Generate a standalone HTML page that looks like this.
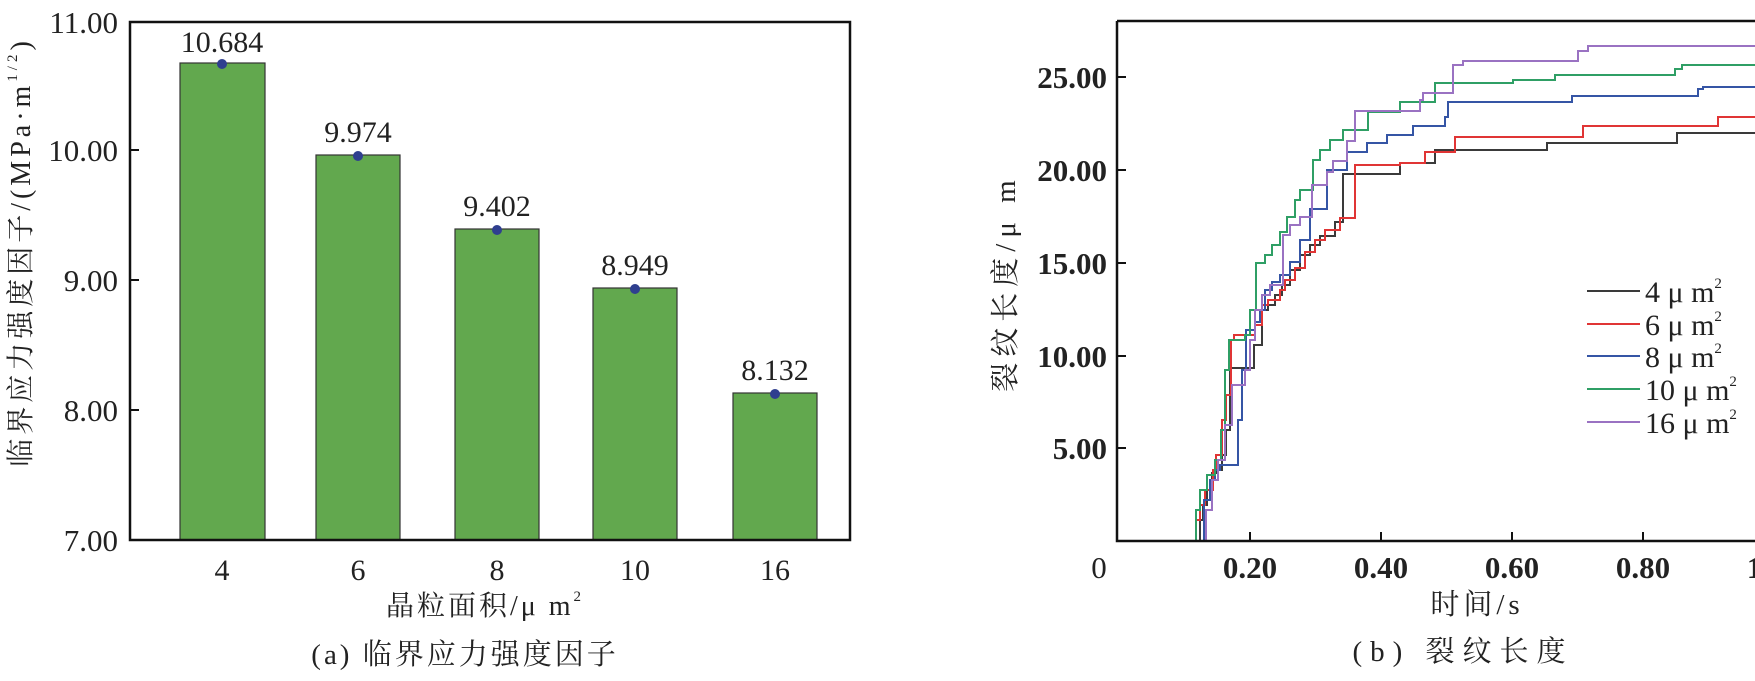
<!DOCTYPE html>
<html><head><meta charset="utf-8"><style>
body{margin:0;background:#fff;}
svg{display:block;}
.s{font-family:"Liberation Serif","Noto Serif CJK SC",serif;fill:#222;}
.c{font-family:"Liberation Serif","Noto Serif CJK SC",serif;fill:#222;}
</style></head><body>
<svg width="1755" height="681" viewBox="0 0 1755 681" xmlns="http://www.w3.org/2000/svg">
<!-- Chart a -->
<g stroke="#333" stroke-width="1.2" fill="#62a84e">
<rect x="180" y="63" width="85" height="477"/>
<rect x="316" y="155" width="84" height="385"/>
<rect x="455" y="229" width="84" height="311"/>
<rect x="593" y="288" width="84" height="252"/>
<rect x="733" y="393" width="84" height="147"/>
</g>
<g fill="#2f3f8f">
<circle cx="222" cy="64" r="5"/><circle cx="358" cy="156" r="5"/><circle cx="497" cy="230" r="5"/><circle cx="635" cy="289" r="5"/><circle cx="775" cy="394" r="5"/>
</g>
<rect x="130" y="22" width="720" height="518" fill="none" stroke="#111" stroke-width="2.5"/>
<g stroke="#111" stroke-width="2"><line x1="130" y1="150" x2="139" y2="150"/><line x1="130" y1="280" x2="139" y2="280"/><line x1="130" y1="410" x2="139" y2="410"/></g>
<g class="s" font-size="31" text-anchor="end">
<text x="118" y="33">11.00</text><text x="118" y="161">10.00</text><text x="118" y="291">9.00</text><text x="118" y="421">8.00</text><text x="118" y="551">7.00</text>
</g>
<g class="s" font-size="30" text-anchor="middle">
<text x="222" y="52">10.684</text><text x="358" y="142">9.974</text><text x="497" y="216">9.402</text><text x="635" y="275">8.949</text><text x="775" y="380">8.132</text>
<text x="222" y="580">4</text><text x="358" y="580">6</text><text x="497" y="580">8</text><text x="635" y="580">10</text><text x="775" y="580">16</text>
<text x="485" y="615" font-size="28" letter-spacing="3">晶粒面积/μ m<tspan font-size="15" dy="-14">2</tspan></text>
<text x="465" y="664" font-size="29" letter-spacing="3">(a) 临界应力强度因子</text>
</g>
<text class="s" font-size="28" text-anchor="middle" letter-spacing="4" transform="translate(30,252) rotate(-90)">临界应力强度因子/(MPa·m<tspan font-size="15" dy="-13">1/2</tspan><tspan dy="13">)</tspan></text>

<!-- Chart b -->
<defs><clipPath id="cb"><rect x="1117" y="21" width="640" height="520"/></clipPath></defs>
<g clip-path="url(#cb)" fill="none" stroke-width="2">
<path stroke="#3a3a3a" d="M1197 541 H1200 V520 H1203 V505 H1207 V490 H1212 V473 H1216 V470 H1222 V455 H1226 V430 H1230 V368 H1254 V345 H1262 V310 H1268 V305 H1275 V295 H1282 V285 H1290 V270 H1300 V255 H1310 V245 H1320 V236 H1335 V222 H1343 V174 H1400 V163 H1435 V150 H1547 V143 H1677 V133 H1760"/>
<path stroke="#e03535" d="M1193 541 H1196 V520 H1200 V505 H1205 V490 H1213 V470 H1216 V455 H1222 V420 H1226 V395 H1231 V340 H1234 V335 H1255 V325 H1262 V305 H1268 V300 H1280 V290 H1285 V280 H1295 V268 H1305 V252 H1315 V240 H1325 V230 H1340 V218 H1355 V165 H1400 V163 H1425 V152 H1455 V137 H1583 V126 H1718 V117 H1760"/>
<path stroke="#3555a5" d="M1200 541 H1204 V500 H1210 V480 H1215 V470 H1220 V465 H1238 V460 V420 H1242 V370 H1246 V330 H1255 V322 H1260 V310 H1265 V290 H1272 V282 H1280 V275 H1290 V262 H1300 V240 H1310 V209 H1327 V170 H1347 V152 H1367 V143 H1387 V135 H1413 V126 H1445 V117 H1448 V102 H1572 V96 H1698 V89 H1703 V87 H1760"/>
<path stroke="#2f9f65" d="M1192 541 H1196 V510 H1200 V490 H1207 V475 H1215 V460 H1221 V430 H1225 V370 H1229 V340 H1245 V335 H1250 V310 H1256 V263 H1265 V255 H1272 V245 H1280 V232 H1287 V217 H1295 V200 H1300 V190 H1313 V160 H1320 V150 H1330 V140 H1343 V130 H1368 V112 H1400 V102 H1435 V83 H1513 V80 H1555 V75 H1675 V69 H1682 V65 H1760"/>
<path stroke="#9a72c2" d="M1203 541 H1206 V510 H1212 V480 H1218 V460 H1225 V425 H1232 V385 H1245 V370 H1250 V340 H1255 V310 H1262 V295 H1270 V285 H1283 V235 H1290 V225 H1300 V217 H1312 V185 H1327 V172 H1333 V161 H1347 V141 H1355 V111 H1420 V100 H1423 V93 H1453 V65 H1463 V61 H1578 V51 H1588 V46 H1760"/>
</g>
<path d="M1117 21 H1757 M1117 21 V541 H1757" fill="none" stroke="#111" stroke-width="2.5"/>
<g stroke="#111" stroke-width="2">
<line x1="1117" y1="77" x2="1126" y2="77"/><line x1="1117" y1="170" x2="1126" y2="170"/><line x1="1117" y1="263" x2="1126" y2="263"/><line x1="1117" y1="356" x2="1126" y2="356"/><line x1="1117" y1="448" x2="1126" y2="448"/>
<line x1="1250" y1="541" x2="1250" y2="532"/><line x1="1381" y1="541" x2="1381" y2="532"/><line x1="1512" y1="541" x2="1512" y2="532"/><line x1="1643" y1="541" x2="1643" y2="532"/>
</g>
<g class="c" font-size="31" font-weight="bold" text-anchor="end">
<text x="1107" y="88">25.00</text><text x="1107" y="181">20.00</text><text x="1107" y="274">15.00</text><text x="1107" y="367">10.00</text><text x="1107" y="459">5.00</text>
</g>
<g class="c" font-size="31" font-weight="bold" text-anchor="middle">
<text x="1099" y="578" font-weight="normal">0</text><text x="1250" y="578">0.20</text><text x="1381" y="578">0.40</text><text x="1512" y="578">0.60</text><text x="1643" y="578">0.80</text><text x="1774" y="578">1.00</text>
</g>
<text class="c" font-size="29" text-anchor="middle" letter-spacing="4" x="1477" y="614">时间/s</text>
<text class="c" font-size="29" text-anchor="middle" letter-spacing="8" x="1463" y="661">(b) 裂纹长度</text>
<text class="c" font-size="29" text-anchor="middle" letter-spacing="6" transform="translate(1015,283) rotate(-90)">裂纹长度/μ m</text>
<g stroke-width="2">
<line x1="1587" y1="291" x2="1640" y2="291" stroke="#3a3a3a"/>
<line x1="1587" y1="324" x2="1640" y2="324" stroke="#e03535"/>
<line x1="1587" y1="356" x2="1640" y2="356" stroke="#3555a5"/>
<line x1="1587" y1="389" x2="1640" y2="389" stroke="#2f9f65"/>
<line x1="1587" y1="422" x2="1640" y2="422" stroke="#9a72c2"/>
</g>
<g class="c" font-size="30" xml:space="preserve">
<text x="1645" y="302">4  μ m<tspan font-size="15" dy="-14">2</tspan></text>
<text x="1645" y="335">6  μ m<tspan font-size="15" dy="-14">2</tspan></text>
<text x="1645" y="367">8  μ m<tspan font-size="15" dy="-14">2</tspan></text>
<text x="1645" y="400">10  μ m<tspan font-size="15" dy="-14">2</tspan></text>
<text x="1645" y="433">16  μ m<tspan font-size="15" dy="-14">2</tspan></text>
</g>
</svg>
</body></html>
